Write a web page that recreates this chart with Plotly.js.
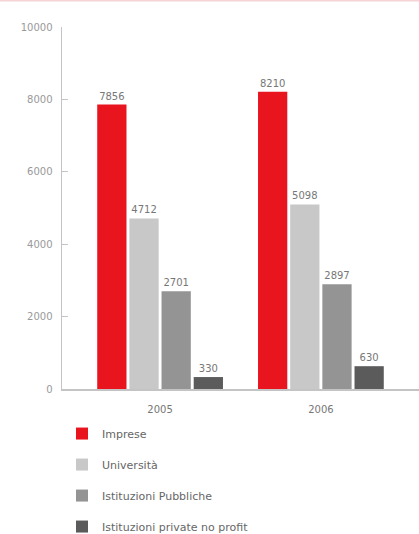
<!DOCTYPE html>
<html>
<head>
<meta charset="utf-8">
<script src="https://cdn.plot.ly/plotly-3.0.1.min.js"></script>
<style>html,body{margin:0;padding:0;background:#fff;}#chart{width:419px;height:534px;}</style>
</head>
<body>
<div id="chart"></div>
<script>
var years = ['2005', '2006'];
var seriesNames = ['Imprese', 'Università', 'Istituzioni Pubbliche', 'Istituzioni private no profit'];
var imprese = [7856, 8210];
var universita = [4712, 5098];
var pubbliche = [2701, 2897];
var privateNoProfit = [330, 630];
var yTicks = [0, 2000, 4000, 6000, 8000, 10000];

var colors = ['#e8151f', '#c8c8c8', '#949494', '#5b5b5b'];
var values = [imprese, universita, pubbliche, privateNoProfit];
var FONT = '"DejaVu Sans", sans-serif';

var traces = values.map(function (v, i) {
  return {
    type: 'bar',
    x: years,
    y: v,
    name: seriesNames[i],
    legendgroup: 'g' + i,
    marker: {color: colors[i], line: {width: 0}},
    text: v.map(String),
    textposition: 'outside',
    textfont: {family: FONT, size: 10, color: '#777'},
    cliponaxis: false,
    hoverinfo: 'none'
  };
});

var layout = {
  width: 419,
  height: 534,
  margin: {l: 62, r: 0, t: 27, b: 145, autoexpand: false},
  paper_bgcolor: '#fff',
  plot_bgcolor: '#fff',
  barmode: 'group',
  bargap: 0.2,
  bargroupgap: 0.09,
  font: {family: FONT, size: 10, color: '#777'},
  xaxis: {
    type: 'category',
    range: [-0.61, 1.61],
    showgrid: false,
    zeroline: false,
    showline: true,
    linecolor: '#c4c4c4',
    linewidth: 1.5,
    ticks: '',
    tickfont: {family: FONT, size: 10, color: '#777'},
    ticklabelstandoff: 10
  },
  yaxis: {
    range: [0, 10000],
    tickvals: yTicks,
    ticktext: yTicks.map(String),
    showgrid: false,
    zeroline: false,
    showline: true,
    linecolor: '#c4c4c4',
    linewidth: 1.5,
    ticks: 'inside',
    ticklen: 6,
    tickcolor: '#c4c4c4',
    tickfont: {family: FONT, size: 10, color: '#999'},
    ticklabelstandoff: 6
  },
  showlegend: true,
  legend: {
    x: 0,
    xanchor: 'left',
    y: -0.083,
    yanchor: 'top',
    orientation: 'v',
    traceorder: 'grouped',
    tracegroupgap: 12,
    font: {family: FONT, size: 11, color: '#666'},
    bgcolor: 'rgba(0,0,0,0)'
  },
  shapes: [{
    type: 'line', xref: 'paper', yref: 'paper',
    x0: -0.2, x1: 1.0, y0: 1.073, y1: 1.073,
    line: {color: '#f6d3d5', width: 2}
  }]
};

Plotly.newPlot('chart', traces, layout, {staticPlot: true, displayModeBar: false});
</script>
</body>
</html>
